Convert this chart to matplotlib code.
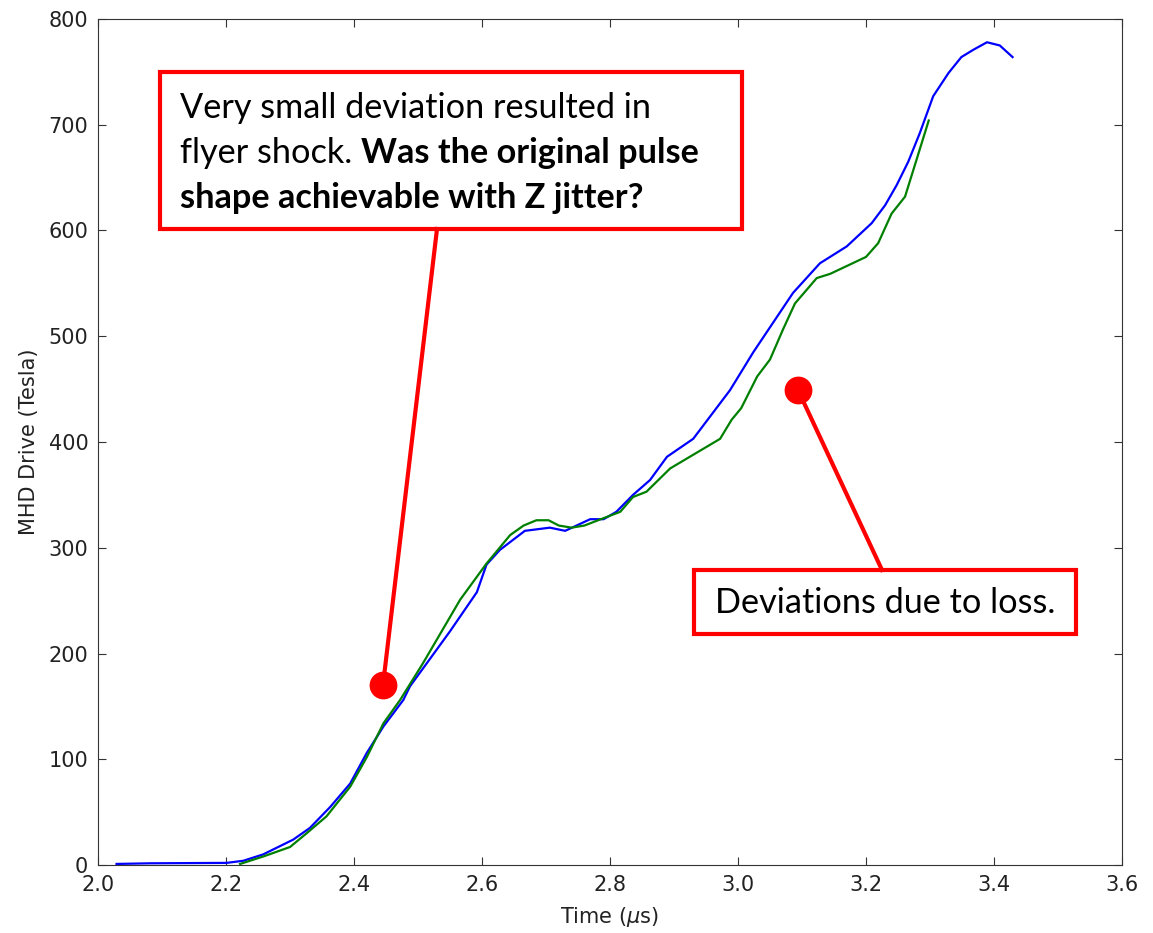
import matplotlib
matplotlib.use("Agg")
import matplotlib.pyplot as plt
from matplotlib.lines import Line2D
from matplotlib.patches import Rectangle

plt.rcParams["font.family"] = ["DejaVu Sans"]

# design drive (blue) and reconstructed drive (green)
t_design = [2.029, 2.081, 2.201, 2.227, 2.258, 2.305, 2.331, 2.363, 2.394, 2.42,
            2.446, 2.477, 2.4875, 2.52, 2.55, 2.592, 2.607, 2.628, 2.667, 2.706,
            2.73, 2.769, 2.79, 2.81, 2.836, 2.8625, 2.889, 2.93, 2.9875, 3.024,
            3.086, 3.128, 3.17, 3.209, 3.23, 3.248, 3.266, 3.284, 3.305, 3.329,
            3.349, 3.368, 3.389, 3.409, 3.429]
b_design = [1, 1.6, 2, 4, 10, 24, 35, 55, 77, 106,
            131, 156, 169, 196, 221, 258, 284, 298, 316, 319,
            316, 327, 327, 334, 350, 364, 386, 403, 449, 485,
            541, 569, 585, 607, 624, 643, 665, 692, 727, 749,
            764, 771, 778, 775, 764]

t_meas = [2.222, 2.258, 2.3, 2.326, 2.357, 2.394, 2.42, 2.446, 2.472, 2.508,
          2.566, 2.607, 2.644, 2.665, 2.685, 2.704, 2.72, 2.74, 2.76, 2.79,
          2.816, 2.836, 2.857, 2.894, 2.972, 2.99, 3.005, 3.03, 3.05, 3.07,
          3.089, 3.123, 3.144, 3.2, 3.219, 3.24, 3.261, 3.279, 3.298]
b_meas = [1, 8, 17, 30, 46, 74, 102, 134, 156, 191,
          251, 285, 312, 321, 326, 326, 321, 319, 321, 328,
          334, 348, 353, 375, 403, 421, 432, 462, 478, 506,
          531, 555, 559, 575, 588, 616, 632, 667, 704]

note_font = ["Lato", "DejaVu Sans"]
RED = "#ff0000"

fig = plt.figure(figsize=(11.53, 9.33), dpi=100, facecolor="white")
W, H = 1153, 933


def fx(px):
    return px / W


def fy(py):
    return 1 - py / H


ax = fig.add_axes([fx(98), fy(865), fx(1122) - fx(98), fy(19) - fy(865)])
ax.plot(t_design, b_design, color="#0000ff", lw=1.6)
ax.plot(t_meas, b_meas, color="#008000", lw=1.6)
ax.set_xlim(2.0, 3.6)
ax.set_ylim(0, 800)
ax.set_xticks([2.0, 2.2, 2.4, 2.6, 2.8, 3.0, 3.2, 3.4, 3.6])
ax.set_yticks(range(0, 801, 100))
ax.tick_params(direction="in", top=True, right=True, labelsize=15, length=6,
               pad=7, color="#333333", labelcolor="#222222")
for sp in ax.spines.values():
    sp.set_color("#333333")
ax.set_xlabel(r"Time ($\mu$s)", fontsize=15, color="#222222")
ax.set_ylabel("MHD Drive (Tesla)", fontsize=15, color="#222222")
ax.yaxis.set_label_coords(-0.058, 0.5)
ax.xaxis.set_label_coords(0.5, -0.047)


def callout(box, start, dot):
    x0, y0, x1, y1 = box
    fig.add_artist(Rectangle((fx(x0), fy(y1)), fx(x1) - fx(x0), fy(y0) - fy(y1),
                             transform=fig.transFigure, fill=False, ec=RED, lw=3))
    fig.add_artist(Line2D([fx(start[0]), fx(dot[0])], [fy(start[1]), fy(dot[1])],
                          transform=fig.transFigure, color=RED, lw=3))
    fig.add_artist(Line2D([fx(dot[0])], [fy(dot[1])], transform=fig.transFigure,
                          marker="o", ms=19, color=RED, mec=RED))


fs = 24.7
callout((160, 72, 742, 229), (437, 229), (383, 685))
fig.text(fx(180), fy(118), "Very small deviation resulted in", fontsize=fs,
         family=note_font, va="baseline")
t2 = fig.text(fx(180), fy(163), "flyer shock. ", fontsize=fs, family=note_font,
              va="baseline")
fig.canvas.draw()
bb = t2.get_window_extent()
fig.text(bb.x1 / W, fy(163), "Was the original pulse", fontsize=fs,
         family=note_font, weight="bold", va="baseline")
fig.text(fx(180), fy(208), "shape achievable with Z jitter?", fontsize=fs,
         family=note_font, weight="bold", va="baseline")

callout((694, 570, 1076, 634), (882, 570), (798, 390))
fig.text(fx(885), fy(613), "Deviations due to loss.", fontsize=fs,
         family=note_font, ha="center", va="baseline")

fig.savefig("out.png", dpi=100, facecolor="white")
